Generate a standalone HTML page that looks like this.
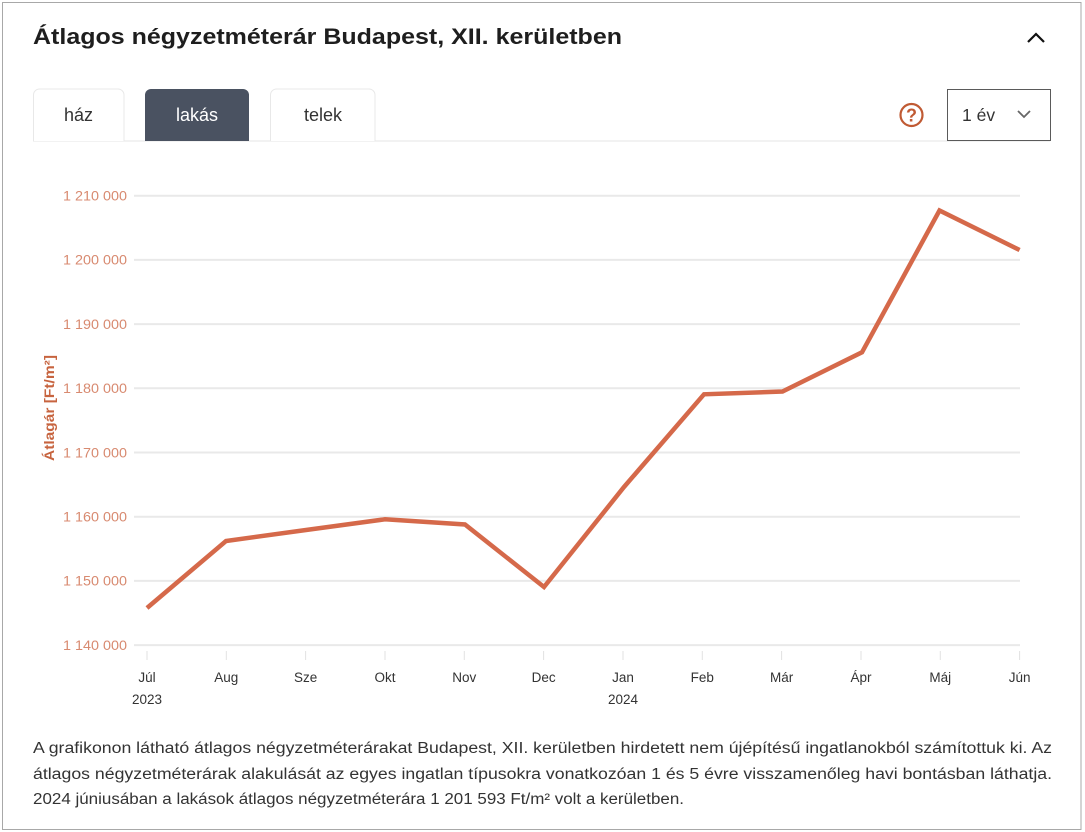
<!DOCTYPE html>
<html><head><meta charset="utf-8"><style>
html,body{margin:0;padding:0;background:#fff;}
svg{display:block;}
</style></head><body>
<svg width="1085" height="832" viewBox="0 0 1085 832" xmlns="http://www.w3.org/2000/svg" font-family="'Liberation Sans', sans-serif">
<rect x="0" y="0" width="1085" height="832" fill="#fff"/>
<rect x="2.5" y="2.5" width="1078.5" height="827" fill="#fff" stroke="#a8a8a8" stroke-width="1"/>
<text x="33" y="44" font-size="22.5" font-weight="bold" fill="#1e1e1e" textLength="589" lengthAdjust="spacingAndGlyphs">Átlagos négyzetméterár Budapest, XII. kerületben</text>
<path d="M1028 42 L1036 34 L1044 42" fill="none" stroke="#111" stroke-width="2.2"/>
<!-- tabs -->
<line x1="33" y1="141" x2="1050" y2="141" stroke="#e6e6e6" stroke-width="1"/>
<path d="M33.5 141 V95 a6 6 0 0 1 6 -6 H118 a6 6 0 0 1 6 6 V141" fill="#fff" stroke="#e8e8e8"/>
<text x="78.5" y="121" font-size="18" fill="#333" text-anchor="middle">ház</text>
<path d="M145 141 V95 a6 6 0 0 1 6 -6 H243 a6 6 0 0 1 6 6 V141 Z" fill="#4a5261"/>
<text x="197" y="121" font-size="18" fill="#fff" text-anchor="middle">lakás</text>
<path d="M270.5 141 V95 a6 6 0 0 1 6 -6 H369 a6 6 0 0 1 6 6 V141" fill="#fff" stroke="#e8e8e8"/>
<text x="323" y="121" font-size="18" fill="#333" text-anchor="middle">telek</text>
<circle cx="911.5" cy="115" r="11" fill="none" stroke="#c05a33" stroke-width="2.2"/>
<text x="911.5" y="121.5" font-size="18" font-weight="bold" fill="#c05a33" text-anchor="middle">?</text>
<rect x="947.5" y="89.5" width="103" height="51" fill="#fff" stroke="#5a5a5a" stroke-width="1"/>
<text x="962" y="121" font-size="17.5" fill="#333">1 év</text>
<path d="M1018 111 L1024 117 L1030 111" fill="none" stroke="#666" stroke-width="1.8"/>
<!-- grid -->
<g stroke="#e9e9e9" stroke-width="2">
<line x1="134" y1="195.7" x2="1020" y2="195.7"/>
<line x1="134" y1="259.9" x2="1020" y2="259.9"/>
<line x1="134" y1="324.1" x2="1020" y2="324.1"/>
<line x1="134" y1="388.3" x2="1020" y2="388.3"/>
<line x1="134" y1="452.5" x2="1020" y2="452.5"/>
<line x1="134" y1="516.7" x2="1020" y2="516.7"/>
<line x1="134" y1="580.9" x2="1020" y2="580.9"/>
<line x1="134" y1="645.1" x2="1020" y2="645.1"/>
</g>
<g font-size="14" fill="#d88a70">
<text x="63" y="200.5" textLength="64" lengthAdjust="spacingAndGlyphs">1 210 000</text>
<text x="63" y="264.7" textLength="64" lengthAdjust="spacingAndGlyphs">1 200 000</text>
<text x="63" y="328.9" textLength="64" lengthAdjust="spacingAndGlyphs">1 190 000</text>
<text x="63" y="393.1" textLength="64" lengthAdjust="spacingAndGlyphs">1 180 000</text>
<text x="63" y="457.3" textLength="64" lengthAdjust="spacingAndGlyphs">1 170 000</text>
<text x="63" y="521.5" textLength="64" lengthAdjust="spacingAndGlyphs">1 160 000</text>
<text x="63" y="585.7" textLength="64" lengthAdjust="spacingAndGlyphs">1 150 000</text>
<text x="63" y="649.9" textLength="64" lengthAdjust="spacingAndGlyphs">1 140 000</text>
</g>
<text transform="translate(54,408) rotate(-90)" x="-53" y="0" font-size="14" font-weight="bold" fill="#c7643f" textLength="106" lengthAdjust="spacingAndGlyphs">Átlagár [Ft/m²]</text>
<!-- x ticks -->
<g stroke="#e2e2e2" stroke-width="1">
<line x1="147" y1="651" x2="147" y2="660"/><line x1="226.3" y1="651" x2="226.3" y2="660"/>
<line x1="305.6" y1="651" x2="305.6" y2="660"/><line x1="385" y1="651" x2="385" y2="660"/>
<line x1="464.3" y1="651" x2="464.3" y2="660"/><line x1="543.6" y1="651" x2="543.6" y2="660"/>
<line x1="623" y1="651" x2="623" y2="660"/><line x1="702.3" y1="651" x2="702.3" y2="660"/>
<line x1="781.6" y1="651" x2="781.6" y2="660"/><line x1="861" y1="651" x2="861" y2="660"/>
<line x1="940.3" y1="651" x2="940.3" y2="660"/><line x1="1019.6" y1="651" x2="1019.6" y2="660"/>
</g>
<g font-size="13.5" fill="#333" text-anchor="middle">
<text x="147" y="682">Júl</text><text x="147" y="704">2023</text>
<text x="226.3" y="682">Aug</text>
<text x="305.6" y="682">Sze</text>
<text x="385" y="682">Okt</text>
<text x="464.3" y="682">Nov</text>
<text x="543.6" y="682">Dec</text>
<text x="623" y="682">Jan</text><text x="623" y="704">2024</text>
<text x="702.3" y="682">Feb</text>
<text x="781.6" y="682">Már</text>
<text x="861" y="682">Ápr</text>
<text x="940.3" y="682">Máj</text>
<text x="1019.6" y="682">Jún</text>
</g>
<polyline points="147,608 226,541 306,530 385,519.3 465,524.5 544,587 624,487 704,394.3 782.5,391.5 862,352.3 939.5,210.5 1019.6,250" fill="none" stroke="#d5694a" stroke-width="4.5" stroke-linejoin="miter" stroke-linecap="butt"/>
<!-- paragraph -->
<g font-size="15.5" fill="#333">
<text x="33" y="753" textLength="1019" lengthAdjust="spacingAndGlyphs">A grafikonon látható átlagos négyzetméterárakat Budapest, XII. kerületben hirdetett nem újépítésű ingatlanokból számítottuk ki. Az</text>
<text x="33" y="779" textLength="1019" lengthAdjust="spacingAndGlyphs">átlagos négyzetméterárak alakulását az egyes ingatlan típusokra vonatkozóan 1 és 5 évre visszamenőleg havi bontásban láthatja.</text>
<text x="33" y="804" textLength="651" lengthAdjust="spacingAndGlyphs">2024 júniusában a lakások átlagos négyzetméterára 1 201 593 Ft/m² volt a kerületben.</text>
</g>
</svg>
</body></html>
